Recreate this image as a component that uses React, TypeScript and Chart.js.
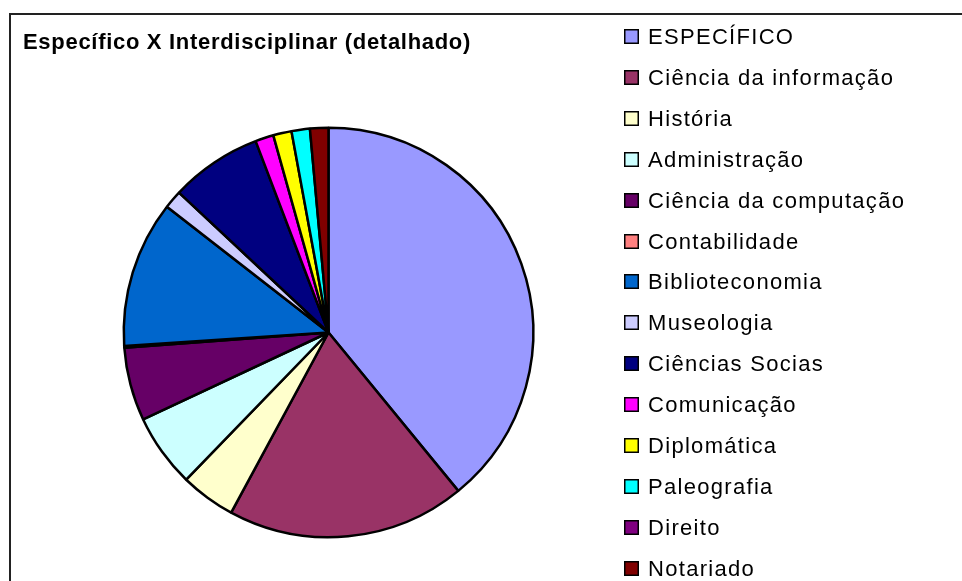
import React, { useEffect, useRef } from "react";
import { Chart, registerables } from "chart.js";

Chart.register(...registerables);

const titleText = "Específico X Interdisciplinar (detalhado)";

const categories = [
  "ESPECÍFICO",
  "Ciência da informação",
  "História",
  "Administração",
  "Ciência da computação",
  "Contabilidade",
  "Biblioteconomia",
  "Museologia",
  "Ciências Socias",
  "Comunicação",
  "Diplomática",
  "Paleografia",
  "Direito",
  "Notariado",
];

const counts = [27, 13, 3, 4, 4, 0.1, 8, 1, 5, 1, 1, 1, 0, 1];

const sliceColors = [
  "#9999FF",
  "#993366",
  "#FFFFCC",
  "#CCFFFF",
  "#660066",
  "#FF8080",
  "#0066CC",
  "#CCCCFF",
  "#000080",
  "#FF00FF",
  "#FFFF00",
  "#00FFFF",
  "#800080",
  "#800000",
];

const decorPlugin = {
  id: "decor",
  afterDraw(chart: any) {
    const ctx = chart.ctx as CanvasRenderingContext2D;
    ctx.save();
    // outer frame
    ctx.strokeStyle = "#222222";
    ctx.lineWidth = 2;
    ctx.strokeRect(10, 14, 1000, 700);
    // title
    ctx.fillStyle = "#000000";
    ctx.font = "bold 22px 'Liberation Sans', Arial, sans-serif";
    (ctx as any).letterSpacing = "0.7px";
    ctx.textBaseline = "alphabetic";
    ctx.textAlign = "left";
    ctx.fillText(titleText, 23, 49);
    // legend
    ctx.font = "22px 'Liberation Sans', Arial, sans-serif";
    (ctx as any).letterSpacing = "1.3px";
    const labels: string[] = chart.data.labels;
    const colors: string[] = chart.data.datasets[0].backgroundColor;
    labels.forEach((lab, i) => {
      const top = Math.round(29 + i * 40.9);
      ctx.fillStyle = colors[i];
      ctx.fillRect(624, top, 15, 15);
      ctx.strokeStyle = "#000000";
      ctx.lineWidth = 1.5;
      ctx.strokeRect(624.75, top + 0.75, 13.5, 13.5);
      ctx.fillStyle = "#000000";
      ctx.fillText(lab, 648, top + 15);
    });
    ctx.restore();
  },
};

export default function App() {
  const ref = useRef<HTMLCanvasElement | null>(null);
  useEffect(() => {
    if (!ref.current) return;
    const chart = new Chart(ref.current, {
      type: "pie",
      data: {
        labels: categories,
        datasets: [
          {
            data: counts,
            backgroundColor: sliceColors,
            borderColor: "#000000",
            borderWidth: 2.5,
          },
        ],
      },
      options: {
        animation: false,
        responsive: false,
        maintainAspectRatio: false,
        layout: {
          padding: { left: 122.5, top: 126.5, right: 427.5, bottom: 42.5 },
        },
        plugins: {
          legend: { display: false },
          title: { display: false },
          tooltip: { enabled: false },
        },
      },
      plugins: [decorPlugin],
    });
    return () => chart.destroy();
  }, []);
  return (
    <div style={{ position: "fixed", left: 0, top: 0, width: 962, height: 581, background: "#fff" }}>
      <canvas ref={ref} width={962} height={581} style={{ display: "block" }} />
    </div>
  );
}
